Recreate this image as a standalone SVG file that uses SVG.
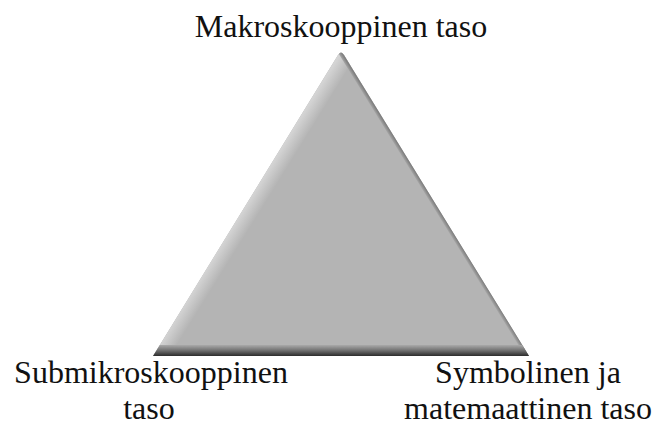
<svg xmlns="http://www.w3.org/2000/svg" width="655" height="426" viewBox="0 0 655 426">
  <style>
    .lbl { font-family: "Liberation Serif", "Times New Roman", serif; font-size: 32px; fill: #111; text-anchor: middle; }
  </style>
  <defs>
    <clipPath id="triClip">
      <path d="M338,55 Q341,50 344,55 L529,356 L153,356 Z"/>
    </clipPath>
    <linearGradient id="leftBevel" gradientUnits="userSpaceOnUse" x1="247" y1="204" x2="259.7" y2="211.9">
      <stop offset="0" stop-color="#d4d4d4"/>
      <stop offset="1" stop-color="#b4b4b4"/>
    </linearGradient>
    <linearGradient id="bottomBand" gradientUnits="userSpaceOnUse" x1="0" y1="344" x2="0" y2="357">
      <stop offset="0" stop-color="#b4b4b4"/>
      <stop offset="0.5" stop-color="#707070"/>
      <stop offset="1" stop-color="#202020"/>
    </linearGradient>
    <linearGradient id="rightBevel" gradientUnits="userSpaceOnUse" x1="435" y1="204" x2="431.6" y2="206.1">
      <stop offset="0" stop-color="#808080"/>
      <stop offset="1" stop-color="#b4b4b4"/>
    </linearGradient>
  </defs>
  <g id="triangle">
    <path d="M338,55 Q341,50 344,55 L529,356 L153,356 Z" fill="#b4b4b4"/>
    <g clip-path="url(#triClip)">
      <path d="M341,48 L355,57 L167,363 L153,356 Z" fill="url(#leftBevel)"/>
      <path d="M341,48 L531,356 L527,359 L337,51 Z" fill="url(#rightBevel)"/>
      <path d="M140,345 L540,345 L540,357 L140,357 Z" fill="url(#bottomBand)"/>
    </g>
  </g>
  <g id="node-top">
    <text class="lbl" x="341" y="37">Makroskooppinen taso</text>
  </g>
  <g id="node-left">
    <text class="lbl" x="151" y="383">Submikroskooppinen</text>
    <text class="lbl" x="149" y="419">taso</text>
  </g>
  <g id="node-right">
    <text class="lbl" x="528" y="383">Symbolinen ja</text>
    <text class="lbl" x="528" y="419">matemaattinen taso</text>
  </g>
</svg>
